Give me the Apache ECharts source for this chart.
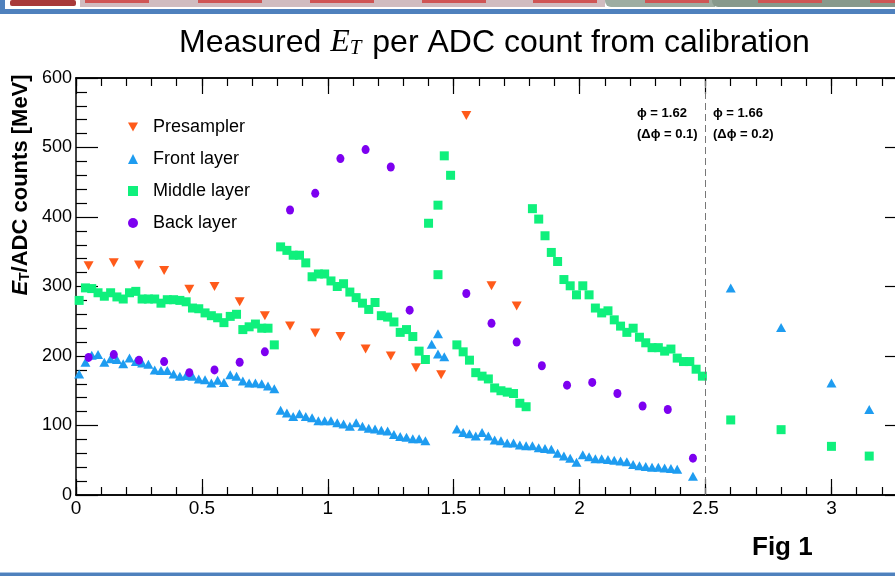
<!DOCTYPE html>
<html>
<head>
<meta charset="utf-8">
<title>Measured ET per ADC count</title>
<script src="https://cdn.jsdelivr.net/npm/echarts@6.0.0/dist/echarts.min.js"></script>
<style>
  html, body { margin: 0; padding: 0; background: #fff; }
  #main { width: 895px; height: 576px; }
</style>
</head>
<body>
<div id="main"></div>
<script>
// values: [eta, E_T / ADC count in MeV]
const presampler = [
  [0.05, 330], [0.15, 334], [0.25, 331], [0.35, 323], [0.45, 296], [0.55, 300],
  [0.65, 278], [0.75, 258], [0.85, 243], [0.95, 233], [1.05, 228], [1.15, 210],
  [1.25, 200], [1.35, 183], [1.45, 173], [1.55, 546], [1.65, 301], [1.75, 272]
];

const frontLayer = [
  [0.0125, 174], [0.0375, 191], [0.0625, 201], [0.0875, 202], [0.1125, 191], [0.1375, 196],
  [0.1625, 195], [0.1875, 189], [0.2125, 197], [0.2375, 192], [0.2625, 190], [0.2875, 188],
  [0.3125, 180], [0.3375, 179], [0.3625, 179], [0.3875, 174], [0.4125, 171], [0.4375, 172],
  [0.4625, 171], [0.4875, 167], [0.5125, 166], [0.5375, 161], [0.5625, 165], [0.5875, 162],
  [0.6125, 173], [0.6375, 171], [0.6625, 164], [0.6875, 161], [0.7125, 161], [0.7375, 160],
  [0.7625, 157], [0.7875, 153],
  [0.8125, 122], [0.8375, 118], [0.8625, 113], [0.8875, 117], [0.9125, 113], [0.9375, 111],
  [0.9625, 107], [0.9875, 107], [1.0125, 107], [1.0375, 104], [1.0625, 102], [1.0875, 99],
  [1.1125, 104], [1.1375, 99], [1.1625, 96], [1.1875, 95], [1.2125, 93], [1.2375, 92],
  [1.2625, 87], [1.2875, 84], [1.3125, 83], [1.3375, 81], [1.3625, 81], [1.3875, 78],
  [1.4125, 217], [1.4375, 232], [1.4375, 203], [1.4625, 199],
  [1.5125, 95], [1.5375, 90], [1.5625, 88], [1.5875, 85], [1.6125, 90], [1.6375, 85],
  [1.6625, 79], [1.6875, 78], [1.7125, 75], [1.7375, 75], [1.7625, 72], [1.7875, 71],
  [1.8125, 71], [1.8375, 68], [1.8625, 67], [1.8875, 66], [1.9125, 60], [1.9375, 56],
  [1.9625, 53], [1.9875, 47], [2.0125, 58], [2.0375, 55], [2.0625, 52], [2.0875, 52],
  [2.1125, 51], [2.1375, 50], [2.1625, 49], [2.1875, 48], [2.2125, 44], [2.2375, 42],
  [2.2625, 41], [2.2875, 40], [2.3125, 40], [2.3375, 39], [2.3625, 38], [2.3875, 37],
  [2.45, 27], [2.6, 298], [2.8, 241], [3.0, 161], [3.15, 123]
];

const middleLayer = [
  [0.0125, 280], [0.0375, 298], [0.0625, 297], [0.0875, 291], [0.1125, 286], [0.1375, 291],
  [0.1625, 285], [0.1875, 282], [0.2125, 291], [0.2375, 293], [0.2625, 282], [0.2875, 282],
  [0.3125, 282], [0.3375, 276], [0.3625, 281], [0.3875, 281], [0.4125, 280], [0.4375, 278],
  [0.4625, 269], [0.4875, 268], [0.5125, 262], [0.5375, 258], [0.5625, 255], [0.5875, 248],
  [0.6125, 257], [0.6375, 260], [0.6625, 238], [0.6875, 242], [0.7125, 246], [0.7375, 240],
  [0.7625, 240], [0.7875, 216],
  [0.8125, 357], [0.8375, 352], [0.8625, 345], [0.8875, 345], [0.9125, 334], [0.9375, 314],
  [0.9625, 318], [0.9875, 318], [1.0125, 308], [1.0375, 300], [1.0625, 304], [1.0875, 292],
  [1.1125, 284], [1.1375, 276], [1.1625, 267], [1.1875, 277], [1.2125, 258], [1.2375, 256],
  [1.2625, 249], [1.2875, 234], [1.3125, 238], [1.3375, 228], [1.3625, 207], [1.3875, 195],
  [1.40, 391], [1.4375, 417], [1.4375, 317], [1.4625, 488], [1.4875, 460],
  [1.5125, 216], [1.5375, 206], [1.5625, 194], [1.5875, 176], [1.6125, 171], [1.6375, 167],
  [1.6625, 154], [1.6875, 150], [1.7125, 148], [1.7375, 146], [1.7625, 132], [1.7875, 127],
  [1.8125, 412], [1.8375, 397], [1.8625, 373], [1.8875, 349], [1.9125, 336], [1.9375, 310],
  [1.9625, 301], [1.9875, 288], [2.0125, 301], [2.0375, 288], [2.0625, 269], [2.0875, 262],
  [2.1125, 265], [2.1375, 252], [2.1625, 243], [2.1875, 234], [2.2125, 240], [2.2375, 227],
  [2.2625, 219], [2.2875, 212], [2.3125, 212], [2.3375, 207], [2.3625, 210], [2.3875, 197],
  [2.4125, 192], [2.4375, 192], [2.4625, 181], [2.4875, 171],
  [2.6, 108], [2.8, 94], [3.0, 70], [3.15, 56]
];

const backLayer = [
  [0.05, 198], [0.15, 202], [0.25, 194], [0.35, 192], [0.45, 176], [0.55, 180],
  [0.65, 191], [0.75, 206], [0.85, 410], [0.95, 434], [1.05, 484], [1.15, 497],
  [1.25, 472], [1.325, 266], [1.55, 290], [1.65, 247], [1.75, 220], [1.85, 186],
  [1.95, 158], [2.05, 162], [2.15, 146], [2.25, 128], [2.35, 123], [2.45, 53]
];

// phi boundary drawn as a dashed line
const boundaryEta = 2.5;
const boundaryLeft = ['ϕ = 1.62', '(Δϕ = 0.1)'];
const boundaryRight = ['ϕ = 1.66', '(Δϕ = 0.2)'];

const FONT = 'Liberation Sans, Arial, sans-serif';
const colors = {
  presampler: '#ff5a1a',
  front: '#1e9cf0',
  middle: '#0ff07c',
  back: '#7d00f0'
};

const chart = echarts.init(document.getElementById('main'));

// shared style for the frame axes
const axisLine = { show: true, onZero: false, lineStyle: { color: '#000', width: 1.5 } };
const tickStyle = { color: '#000', width: 1.2 };

const xAxisOf = (position, interval, length, withLabels) => ({
  type: 'value',
  position: position,
  min: 0,
  max: 3.3,
  interval: interval,
  axisLine: axisLine,
  splitLine: { show: false },
  axisTick: { show: true, inside: true, length: length, lineStyle: tickStyle },
  axisLabel: withLabels
    ? { show: true, fontSize: 19, color: '#000', fontFamily: FONT, margin: 4, showMaxLabel: false }
    : { show: false }
});

const yAxisOf = (position, withLabels) => ({
  type: 'value',
  position: position,
  min: 0,
  max: 600,
  interval: 100,
  axisLine: axisLine,
  splitLine: { show: false },
  axisTick: { show: true, inside: true, length: 22, lineStyle: tickStyle },
  minorTick: { show: true, splitNumber: 5, length: 11, lineStyle: tickStyle },
  minorSplitLine: { show: false },
  axisLabel: withLabels
    ? { show: true, fontSize: 18, color: '#000', fontFamily: FONT, margin: 4 }
    : { show: false }
});

const scatter = (name, data, color, symbol, size, extra) => Object.assign({
  name: name,
  type: 'scatter',
  data: data,
  symbol: symbol,
  symbolSize: size,
  itemStyle: { color: color, opacity: 1 },
  emphasis: { disabled: true },
  z: 3
}, extra || {});

// slide decoration at the top and bottom edge
const decoration = [
  { type: 'rect', shape: { x: 80, y: 0, width: 525, height: 7 }, style: { fill: '#d0bcc0' } },
  { type: 'rect', shape: { x: 605, y: 0, width: 110, height: 7, r: [0, 0, 0, 6] }, style: { fill: '#9dada2' } },
  { type: 'rect', shape: { x: 712, y: 0, width: 183, height: 7, r: [0, 0, 0, 6] }, style: { fill: '#87998c' } },
  { type: 'rect', shape: { x: 10, y: 0, width: 66, height: 6, r: 2 }, style: { fill: '#a8393a' } },
  { type: 'rect', shape: { x: 0, y: 9, width: 895, height: 5 }, style: { fill: '#4f81bd' } },
  { type: 'rect', shape: { x: 0, y: 0, width: 5, height: 14 }, style: { fill: '#4f81bd' } },
  { type: 'rect', shape: { x: 0, y: 572, width: 895, height: 1 }, style: { fill: '#a9c4e4' } },
  { type: 'rect', shape: { x: 0, y: 573, width: 895, height: 3 }, style: { fill: '#4f81bd' } }
];
[85, 198, 310, 422, 533, 645, 758, 870].forEach((x) => {
  decoration.push({ type: 'rect', shape: { x: x, y: 0, width: 64, height: 3 }, style: { fill: '#cf5555' } });
});

const renderChart = () => {
  const options = {
    animation: false,
    backgroundColor: '#fff',
    grid: {
      left: 76,
      right: -12,
      top: 78,
      bottom: 81,
      outerBoundsMode: 'none'
    },
    xAxis: [
      xAxisOf('bottom', 0.5, 16, true),
      xAxisOf('bottom', 0.1, 8, false),
      xAxisOf('top', 0.5, 16, false),
      xAxisOf('top', 0.1, 8, false)
    ],
    yAxis: [yAxisOf('left', true), yAxisOf('right', false)],
    legend: {
      orient: 'vertical',
      left: 123,
      top: 112,
      itemWidth: 10,
      itemHeight: 10,
      itemGap: 12,
      selectedMode: false,
      textStyle: {
        fontSize: 18,
        color: '#000',
        fontFamily: FONT,
        lineHeight: 20,
        padding: [0, 0, 0, 10]
      },
      data: [
        { name: 'Presampler', icon: 'path://M0,0L10,0L5,9Z' },
        { name: 'Front layer', icon: 'triangle' },
        { name: 'Middle layer', icon: 'rect' },
        { name: 'Back layer', icon: 'circle' }
      ]
    },
    series: [
      scatter('Presampler', presampler, colors.presampler, 'triangle', [10, 9], {
        symbolRotate: 180,
        markLine: {
          silent: true,
          symbol: ['none', 'none'],
          label: { show: false },
          lineStyle: { color: '#777', width: 1, type: [7, 4] },
          data: [{ xAxis: boundaryEta }]
        }
      }),
      scatter('Front layer', frontLayer, colors.front, 'triangle', [10, 9]),
      scatter('Middle layer', middleLayer, colors.middle, 'rect', [9, 9]),
      scatter('Back layer', backLayer, colors.back, 'circle', [8, 9])
    ],
    graphic: decoration.concat([
      // title with E_T
      {
        type: 'text',
        left: 179,
        top: 27,
        style: {
          text: '{n|Measured }{e|E}{s|T}{n| per ADC count from calibration}',
          fill: '#000',
          rich: {
            n: { fontSize: 32, fontFamily: FONT, lineHeight: 37, verticalAlign: 'bottom' },
            e: { fontSize: 32, fontFamily: 'Liberation Serif, serif', fontStyle: 'italic', lineHeight: 37, verticalAlign: 'bottom' },
            s: { fontSize: 21, fontFamily: 'Liberation Serif, serif', fontStyle: 'italic', lineHeight: 29, verticalAlign: 'bottom', padding: [0, 2, 0, 0] }
          }
        }
      },
      // y axis title, rotated
      {
        type: 'text',
        x: 19,
        y: 185,
        rotation: Math.PI / 2,
        style: {
          text: '{e|E}{s|T}{n|/ADC counts [MeV]}',
          align: 'center',
          verticalAlign: 'middle',
          fill: '#000',
          rich: {
            n: { fontSize: 22, fontWeight: 'bold', fontFamily: FONT, lineHeight: 26, verticalAlign: 'bottom' },
            e: { fontSize: 22, fontWeight: 'bold', fontStyle: 'italic', fontFamily: FONT, lineHeight: 26, verticalAlign: 'bottom' },
            s: { fontSize: 14, fontWeight: 'bold', fontFamily: FONT, lineHeight: 19, verticalAlign: 'bottom' }
          }
        }
      },
      // boundary notes
      {
        type: 'text',
        left: 637,
        top: 103,
        style: { text: boundaryLeft.join('\n'), fontSize: 13, fontWeight: 'bold', fontFamily: FONT, lineHeight: 21, fill: '#000' }
      },
      {
        type: 'text',
        left: 713,
        top: 103,
        style: { text: boundaryRight.join('\n'), fontSize: 13, fontWeight: 'bold', fontFamily: FONT, lineHeight: 21, fill: '#000' }
      },
      {
        type: 'text',
        left: 752,
        top: 535,
        style: { text: 'Fig 1', fontSize: 26, fontWeight: 'bold', fontFamily: FONT, fill: '#000' }
      }
    ])
  };

  chart.setOption(options);
};

renderChart();
</script>
</body>
</html>
